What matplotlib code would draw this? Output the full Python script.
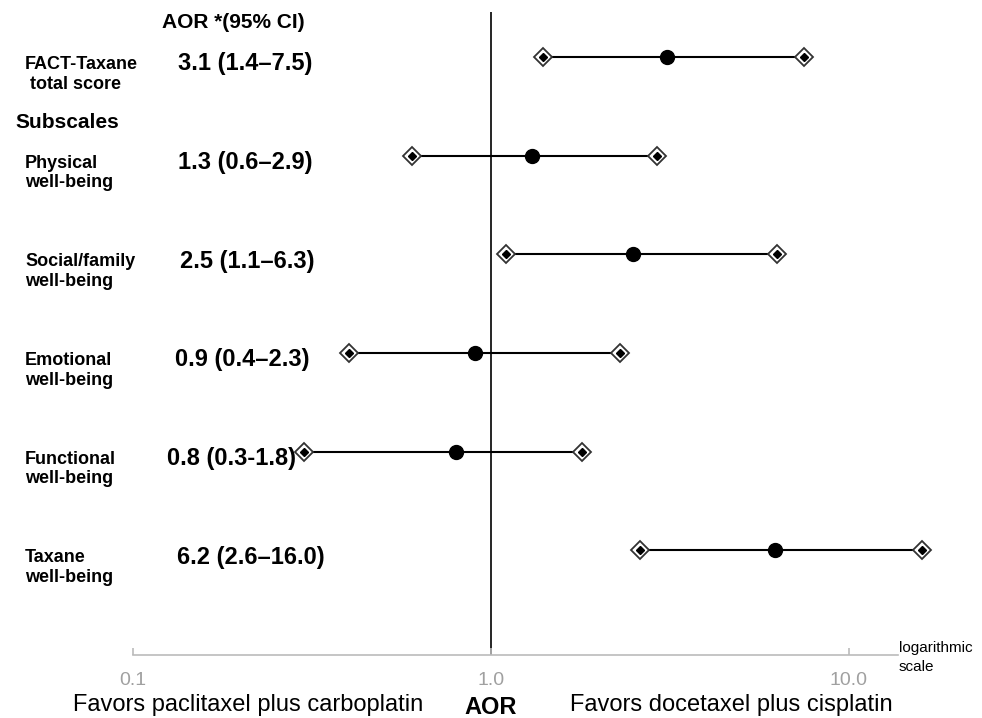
import matplotlib.pyplot as plt
import matplotlib.transforms as mtransforms

plt.rcParams['font.family'] = ['Liberation Sans', 'DejaVu Sans']

# data
labels = ['FACT-Taxane\n total score', 'Physical\nwell-being', 'Social/family\nwell-being',
          'Emotional\nwell-being', 'Functional\nwell-being', 'Taxane\nwell-being']
aor = [3.1, 1.3, 2.5, 0.9, 0.8, 6.2]
ci_low = [1.4, 0.6, 1.1, 0.4, 0.3, 2.6]
ci_high = [7.5, 2.9, 6.3, 2.3, 1.8, 16.0]
ci_text = ['3.1 (1.4–7.5)', '1.3 (0.6–2.9)', '2.5 (1.1–6.3)',
           '0.9 (0.4–2.3)', '0.8 (0.3-1.8)', '6.2 (2.6–16.0)']
tick_vals = [0.1, 1.0, 10.0]
tick_labels = ['0.1', '1.0', '10.0']

W, H = 982, 718
# 1.0 sits at x=491 px, one decade = 358 px
one_px, dec_px = 491, 358
ax_l, ax_r, ax_t, ax_b = 133, 898, 12, 655
fig = plt.figure(figsize=(W / 100, H / 100), dpi=100)
ax = fig.add_axes([ax_l / W, (H - ax_b) / H, (ax_r - ax_l) / W, (ax_b - ax_t) / H])

ax.set_xscale('log')
ax.set_xlim(10 ** ((ax_l - one_px) / dec_px), 10 ** ((ax_r - one_px) / dec_px))
ax.set_ylim(6.06, -0.456)

rows = list(range(len(aor)))
for i in rows:
    ax.plot([ci_low[i], ci_high[i]], [i, i], color='black', lw=1.5, zorder=2, clip_on=False)
    ax.plot([ci_low[i], ci_high[i]], [i, i], ls='none', marker='D', ms=9.5,
            mfc='white', mec='#333333', mew=1.3, zorder=3, clip_on=False)
    ax.plot([ci_low[i], ci_high[i]], [i, i], ls='none', marker='D', ms=4.5,
            mfc='black', mec='black', zorder=4, clip_on=False)
ax.plot(aor, rows, ls='none', marker='o', ms=10, color='black', zorder=5)

ax.axvline(1.0, color='black', lw=1.2, zorder=1)

for s in ['top', 'right', 'left']:
    ax.spines[s].set_visible(False)
ax.spines['bottom'].set_color('#bbbbbb')
ax.spines['bottom'].set_linewidth(1.2)
ax.set_yticks([])
ax.set_xticks(tick_vals)
ax.set_xticklabels(tick_labels)
ax.xaxis.set_minor_locator(plt.NullLocator())
ax.tick_params(axis='x', direction='in', length=5, color='#bbbbbb', width=1.2,
               labelsize=14, labelcolor='#a0a0a0', pad=12)

tr = mtransforms.blended_transform_factory(fig.transFigure, ax.transData)
for i, lab in enumerate(labels):
    ax.text(25 / W, i - 0.01, lab, transform=tr, fontsize=13, fontweight='bold',
            va='top', ha='left', linespacing=1.2)
val_x = [178, 178, 180, 175, 167, 177]
for i, t in enumerate(ci_text):
    ax.text(val_x[i] / W, i + 0.07, t, transform=tr, fontsize=17, fontweight='bold',
            va='center', ha='left')

fig.text(162 / W, 1 - 22 / H, 'AOR *(95% CI)', fontsize=15, fontweight='bold', va='center')
fig.text(15 / W, 1 - 122 / H, 'Subscales', fontsize=15, fontweight='bold', va='center')
fig.text(899 / W, 1 - 648 / H, 'logarithmic', fontsize=11, va='center')
fig.text(899 / W, 1 - 667 / H, 'scale', fontsize=11, va='center')
fig.text(73 / W, 1 - 705 / H, 'Favors paclitaxel plus carboplatin', fontsize=17, va='center')
fig.text(491 / W, 1 - 707 / H, 'AOR', fontsize=17, fontweight='bold', va='center', ha='center')
fig.text(570 / W, 1 - 705 / H, 'Favors docetaxel plus cisplatin', fontsize=17, va='center')

fig.savefig('out.png', dpi=100)
